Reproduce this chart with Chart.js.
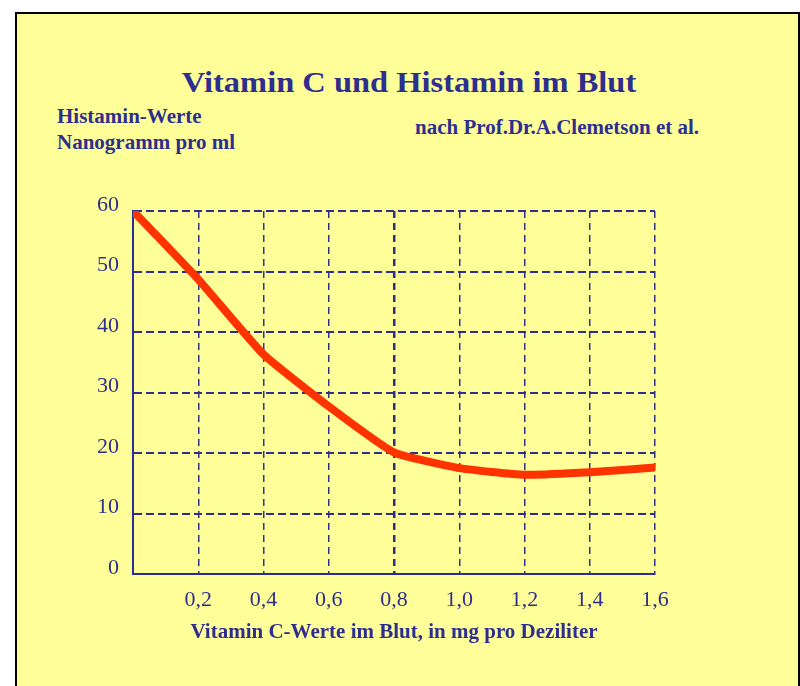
<!DOCTYPE html>
<html>
<head>
<meta charset="utf-8">
<script src="https://cdn.jsdelivr.net/npm/chart.js@4"></script>
<style>
  body { margin: 0; background: #fff; width: 800px; height: 686px; overflow: hidden; position: relative; }
  #frame { position: absolute; left: 15px; top: 12px; width: 781px; height: 700px;
           background: #ffff99; border: 2px solid #000; }
  .txt { position: absolute; color: #2e2e8e; font-family: "Liberation Serif", "DejaVu Serif", serif;
         font-weight: bold; white-space: nowrap; line-height: 1; }
  #title { left: 409px; top: 68px; font-size: 29px; transform: translateX(-50%) scaleX(1.12); }
  #ylab1 { left: 57px; top: 106px; font-size: 21px; }
  #ylab2 { left: 57px; top: 132px; font-size: 21px; }
  #source { left: 415px; top: 117px; font-size: 21px; }
  canvas { position: absolute; left: 0; top: 0; }
</style>
</head>
<body>
<div id="frame"></div>
<div class="txt" id="title">Vitamin C und Histamin im Blut</div>
<div class="txt" id="ylab1">Histamin-Werte</div>
<div class="txt" id="ylab2">Nanogramm pro ml</div>
<div class="txt" id="source">nach Prof.Dr.A.Clemetson et al.</div>
<canvas id="myChart" width="800" height="686"></canvas>
<script>
const ctx = 'myChart';

// Vitamin C im Blut (mg/dl) und Histamin (ng/ml)
const vitaminC = [0, 0.2, 0.4, 0.6, 0.8, 1.0, 1.2, 1.4, 1.6];
const histamin = [60, 48.7, 36.3, 27.7, 20.1, 17.5, 16.4, 16.8, 17.6];
const xTicks = [0, 0.2, 0.4, 0.6, 0.8, 1.0, 1.2, 1.4, 1.6];
const yTicks = [0, 10, 20, 30, 40, 50, 60];
const xTitle = 'Vitamin C-Werte im Blut, in mg pro Deziliter';

const blue = '#2e2e8e';
const points = vitaminC.map((v, i) => ({ x: v, y: histamin[i] }));

const myChart = new Chart(ctx, {
    type: 'line',
    data: {
        datasets: [{
            data: points,
            borderColor: '#ff3300',
            borderWidth: 8,
            pointRadius: 0,
            tension: 0.15,
            borderCapStyle: 'round',
            borderJoinStyle: 'round'
        }]
    },
    options: {
        responsive: false,
        animation: false,
        layout: {
            padding: { left: 93, right: 145, top: 211, bottom: 32 }
        },
        scales: {
            x: {
                type: 'linear',
                min: xTicks[0],
                max: xTicks[xTicks.length - 1],
                afterBuildTicks: (s) => { s.ticks = xTicks.map(v => ({ value: v })); },
                afterFit: (s) => { s.height = 80; },
                border: { display: true, color: blue, width: 2, dash: [7, 5] },
                grid: {
                    color: blue,
                    lineWidth: (c) => (c.tick && c.tick.value === 0.8) ? 2.5 : 1.5,
                    drawTicks: false
                },
                ticks: {
                    autoSkip: false,
                    maxRotation: 0,
                    padding: 13,
                    color: blue,
                    font: { family: 'Liberation Serif', size: 22 },
                    callback: (v) => v === 0 ? '' : v.toFixed(1).replace('.', ',')
                },
                title: {
                    display: true,
                    text: xTitle,
                    color: blue,
                    padding: { top: 0, bottom: 9 },
                    font: { family: 'Liberation Serif', size: 21, weight: 'bold' }
                }
            },
            y: {
                min: yTicks[0],
                max: yTicks[yTicks.length - 1],
                afterBuildTicks: (s) => { s.ticks = yTicks.map(v => ({ value: v })); },
                afterFit: (s) => { s.width = 40; },
                border: { display: true, color: blue, width: 2, dash: [8, 4] },
                grid: {
                    color: blue,
                    lineWidth: 2,
                    drawTicks: false
                },
                ticks: {
                    padding: 14,
                    labelOffset: -6,
                    color: blue,
                    font: { family: 'Liberation Serif', size: 22 }
                }
            }
        },
        plugins: {
            legend: false,
            tooltip: { enabled: false }
        }
    }
});
</script>
</body>
</html>
